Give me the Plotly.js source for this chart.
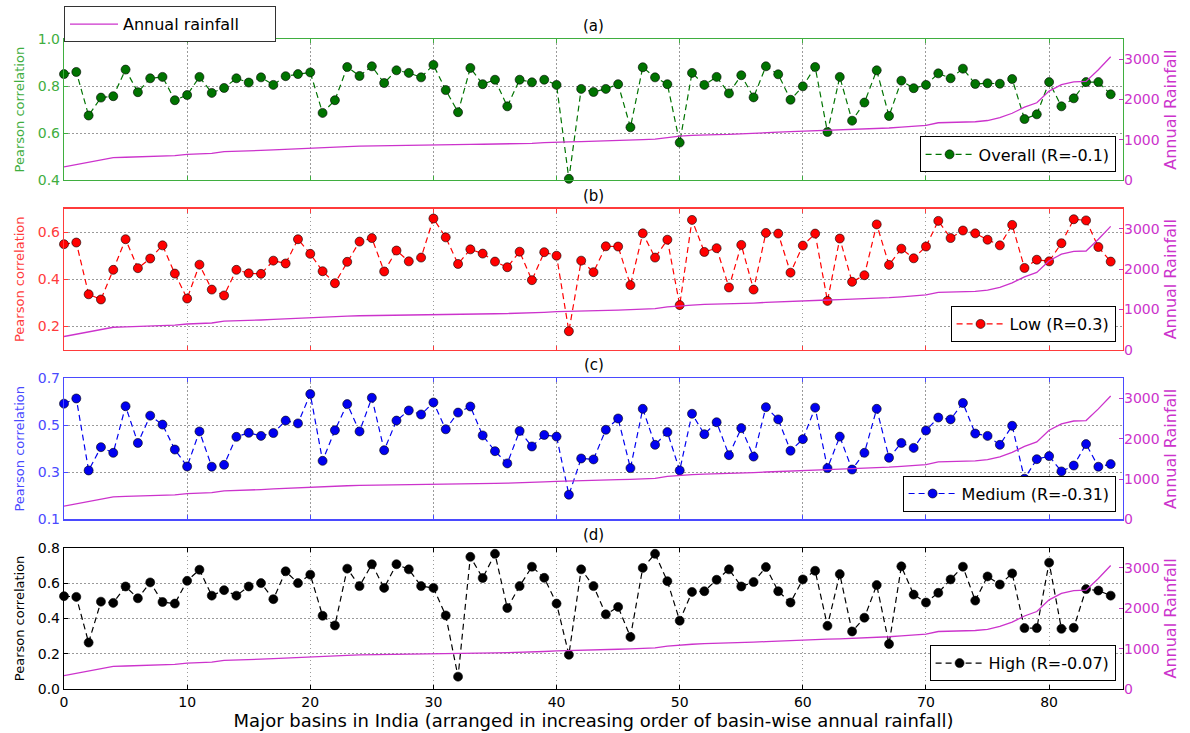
<!DOCTYPE html>
<html>
<head>
<meta charset="utf-8">
<script src="https://cdn.plot.ly/plotly-3.0.1.min.js"></script>
<style>html,body{margin:0;padding:0;background:#fff;}#chart{width:1190px;height:733px;}</style>
</head>
<body>
<div id="chart"></div>
<script>
// ---- data ----
const basinIndex = Array.from({length: 86}, (_, i) => i);

const annualRainfall = [330,390,450,510,560,570,580,590,600,610,
  640,650,665,710,715,725,740,755,770,790,
  805,812,825,835,845,848,850,852,858,865,
  875,880,885,888,892,895,900,905,915,930,
  945,950,955,962,975,985,995,1005,1020,1065,
  1095,1110,1125,1130,1135,1145,1160,1175,1190,1205,
  1215,1225,1235,1245,1255,1265,1280,1295,1315,1335,
  1360,1425,1435,1440,1450,1480,1550,1660,1810,1920,
  2210,2370,2440,2450,2740,3060];

const overallCorr = [0.851,0.860,0.675,0.751,0.757,0.870,0.774,0.833,0.839,0.740,
  0.762,0.839,0.771,0.792,0.833,0.815,0.837,0.805,0.842,0.851,
  0.858,0.686,0.740,0.881,0.843,0.884,0.813,0.867,0.856,0.837,
  0.890,0.783,0.689,0.877,0.808,0.827,0.714,0.827,0.816,0.827,
  0.805,0.406,0.788,0.775,0.788,0.808,0.625,0.880,0.837,0.808,
  0.560,0.856,0.805,0.839,0.769,0.846,0.752,0.884,0.850,0.742,
  0.799,0.881,0.605,0.839,0.653,0.730,0.867,0.673,0.823,0.791,
  0.805,0.854,0.833,0.874,0.809,0.812,0.810,0.830,0.660,0.680,
  0.817,0.714,0.748,0.817,0.817,0.765];

const lowCorr = [0.549,0.556,0.336,0.314,0.440,0.570,0.447,0.488,0.544,0.424,
  0.318,0.462,0.356,0.331,0.440,0.425,0.423,0.479,0.467,0.570,
  0.508,0.434,0.383,0.474,0.560,0.575,0.433,0.522,0.476,0.492,
  0.658,0.578,0.465,0.527,0.509,0.475,0.451,0.517,0.396,0.515,
  0.500,0.179,0.479,0.430,0.540,0.539,0.375,0.595,0.492,0.568,
  0.290,0.652,0.516,0.532,0.365,0.546,0.356,0.597,0.594,0.428,
  0.543,0.594,0.308,0.573,0.389,0.417,0.633,0.461,0.530,0.489,
  0.539,0.648,0.575,0.607,0.595,0.568,0.544,0.631,0.448,0.483,
  0.476,0.553,0.655,0.650,0.537,0.475];

const mediumCorr = [0.592,0.614,0.308,0.407,0.383,0.581,0.425,0.541,0.503,0.397,
  0.325,0.474,0.324,0.332,0.451,0.468,0.455,0.467,0.520,0.508,
  0.633,0.349,0.479,0.590,0.474,0.617,0.394,0.520,0.563,0.546,
  0.597,0.483,0.554,0.580,0.457,0.390,0.338,0.476,0.410,0.459,
  0.452,0.205,0.359,0.355,0.481,0.529,0.318,0.570,0.417,0.471,
  0.308,0.549,0.462,0.513,0.373,0.488,0.367,0.577,0.525,0.392,
  0.441,0.575,0.318,0.452,0.312,0.383,0.570,0.362,0.425,0.404,
  0.478,0.533,0.525,0.595,0.465,0.455,0.417,0.498,0.273,0.356,
  0.369,0.304,0.329,0.420,0.324,0.335];

const highCorr = [0.526,0.522,0.263,0.495,0.488,0.581,0.514,0.604,0.493,0.484,
  0.613,0.676,0.529,0.560,0.529,0.581,0.600,0.509,0.667,0.600,
  0.648,0.415,0.360,0.682,0.583,0.707,0.573,0.707,0.678,0.583,
  0.573,0.417,0.070,0.749,0.629,0.766,0.459,0.583,0.693,0.630,
  0.484,0.194,0.678,0.583,0.423,0.465,0.295,0.686,0.766,0.611,
  0.387,0.550,0.554,0.619,0.678,0.581,0.606,0.691,0.554,0.490,
  0.621,0.670,0.358,0.651,0.326,0.404,0.589,0.255,0.695,0.535,
  0.490,0.545,0.621,0.693,0.501,0.638,0.592,0.655,0.345,0.345,
  0.716,0.341,0.347,0.566,0.558,0.529];

const seriesNames = ["Overall (R=-0.1)", "Low (R=0.3)", "Medium (R=-0.31)", "High (R=-0.07)"];
const rainfallName = "Annual rainfall";
const panelLabels = ["(a)", "(b)", "(c)", "(d)"];
const xTicks = [0,10,20,30,40,50,60,70,80];
const leftTicks = [[0.4,0.6,0.8,1.0],[0.2,0.4,0.6],[0.1,0.3,0.5,0.7],[0.0,0.2,0.4,0.6,0.8]];
const leftRanges = [[0.4,1.0],[0.1,0.7],[0.1,0.7],[0.0,0.8]];
const rightTicks = [0,1000,2000,3000];

// ---- styling ----
const FONT = "DejaVu Sans";
const dotColors = ["#007300", "#ff0000", "#0000f0", "#000000"];
const axisColors = ["#3fae3f", "#ff3b3b", "#4a4aff", "#000000"];
const magenta = "#cc33cc";
const gridColor = "#9a9a9a";
const gridDash = "1.5px,2.5px";
const domains = [[0.7827,1.0],[0.5218,0.7390],[0.2609,0.4781],[0.0,0.2172]];
const legendY = [0.7827,0.5218,0.2609,0.0];
const allSeries = [overallCorr, lowCorr, mediumCorr, highCorr];

const traces = [];
const layout = {
  width: 1190, height: 733,
  margin: {l: 64, r: 67, t: 39, b: 44, autoexpand: false},
  paper_bgcolor: "#fff", plot_bgcolor: "#fff",
  font: {family: FONT, size: 14, color: "#000"},
  annotations: [],
  showlegend: true
};

for (let p = 0; p < 4; p++) {
  const xa = p === 0 ? "x" : "x" + (p + 1);
  const ya = p === 0 ? "y" : "y" + (p + 1);
  const yr = "y" + (p + 5);
  const legName = p === 0 ? "legend" : "legend" + (p + 1);

  traces.push({
    x: basinIndex, y: annualRainfall, xaxis: xa, yaxis: yr,
    type: "scatter", mode: "lines", name: rainfallName + "\u00a0\u00a0\u00a0\u00a0\u00a0\u00a0",
    line: {color: magenta, width: 1.3},
    showlegend: p === 0, legend: "legend5", hoverinfo: "skip"
  });
  traces.push({
    x: basinIndex, y: allSeries[p], xaxis: xa, yaxis: ya,
    type: "scatter", mode: "lines+markers", name: seriesNames[p],
    line: {color: dotColors[p], width: 1.2, dash: "6px,4px"},
    marker: {color: dotColors[p], size: 9, line: {color: "#000", width: 0.6}},
    legend: legName, cliponaxis: false
  });

  const xKey = p === 0 ? "xaxis" : "xaxis" + (p + 1);
  const yKey = p === 0 ? "yaxis" : "yaxis" + (p + 1);
  const yrKey = "yaxis" + (p + 5);

  layout[xKey] = {
    domain: [0, 1], anchor: ya, range: [0, 86],
    tickvals: xTicks, ticktext: xTicks.map(String),
    showticklabels: p === 3, ticks: "inside", ticklen: 4, tickcolor: axisColors[p],
    showline: true, linecolor: axisColors[p], linewidth: 1.2, mirror: "ticks",
    showgrid: true, gridcolor: gridColor, griddash: gridDash, gridwidth: 1,
    zeroline: false, tickfont: {size: 14, color: "#000"}
  };
  if (p > 0) layout[xKey].matches = "x";
  if (p === 3) {
    layout[xKey].title = {text: "Major basins in India (arranged in increasing order of basin-wise annual rainfall)",
      font: {size: 18, color: "#000"}, standoff: 2};
  }
  layout[yKey] = {
    domain: domains[p], anchor: xa, range: leftRanges[p],
    tickvals: leftTicks[p], tickformat: ".1f",
    ticks: "inside", ticklen: 4, tickcolor: axisColors[p],
    showline: true, linecolor: axisColors[p], linewidth: 1.2, mirror: true,
    showgrid: true, gridcolor: gridColor, griddash: gridDash, gridwidth: 1,
    zeroline: false,
    tickfont: {size: 14, color: axisColors[p]},
    title: {text: "Pearson correlation", font: {size: 13, color: axisColors[p]}, standoff: 10}
  };
  layout[yrKey] = {
    overlaying: ya, side: "right", anchor: xa, range: [0, 3500],
    tickvals: rightTicks, ticks: "inside", ticklen: 4, tickcolor: magenta,
    showline: false, showgrid: false, zeroline: false,
    tickfont: {size: 14, color: magenta},
    title: {text: "Annual Rainfall", font: {size: 16, color: magenta}, standoff: 6}
  };

  layout[legName] = {
    x: 0.993, xanchor: "right", y: legendY[p] + 0.012, yanchor: "bottom",
    bgcolor: "#fff", bordercolor: "#000", borderwidth: 1,
    font: {size: 16, color: "#000", family: FONT},
    itemwidth: 48, tracegroupgap: 0
  };

  layout.annotations.push({
    text: panelLabels[p], xref: "paper", yref: "paper",
    x: 0.5, y: domains[p][1], xanchor: "center", yanchor: "bottom",
    yshift: 2, showarrow: false, font: {size: 15, color: "#000"}
  });
}

layout.legend5 = {
  x: 0, xanchor: "left", y: 0.995, yanchor: "bottom",
  bgcolor: "#fff", bordercolor: "#333", borderwidth: 1,
  font: {size: 16, color: "#000", family: FONT},
  itemwidth: 48
};

Plotly.newPlot("chart", traces, layout, {displayModeBar: false, staticPlot: true});
</script>
</body>
</html>
